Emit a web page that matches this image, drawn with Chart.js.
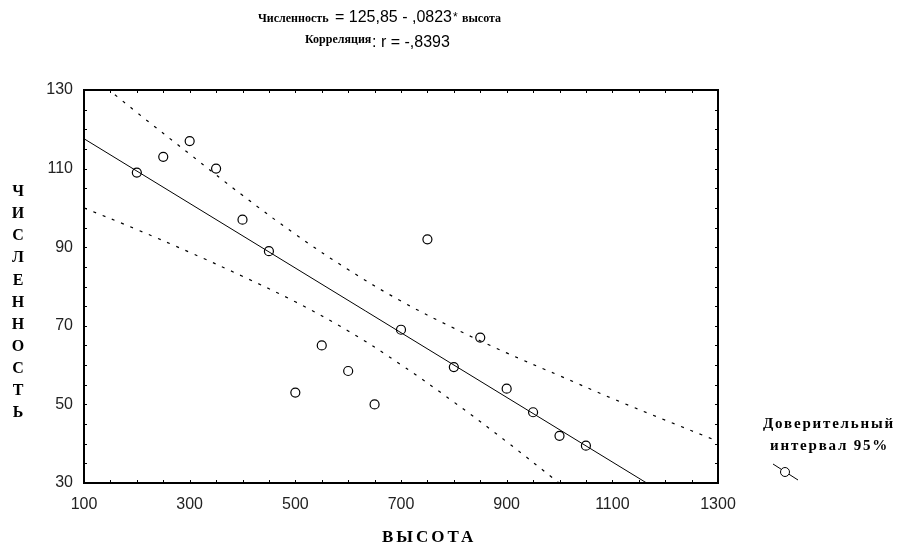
<!DOCTYPE html>
<html lang="ru">
<head>
<meta charset="utf-8">
<title>Численность и высота</title>
<script src="https://cdn.jsdelivr.net/npm/chart.js@4.4.1/dist/chart.umd.min.js"></script>
<style>
  html, body { margin: 0; padding: 0; background: #fff; }
  #heightChart { display: block; }
</style>
</head>
<body>
<canvas id="heightChart" width="901" height="554"></canvas>
<script>
// наблюдения: высота и численность
const visota = [200, 250, 300, 350, 400, 450, 500, 550, 600, 650, 700, 750, 800, 850, 900, 950, 1000, 1050];
const chislennost = [109, 113, 117, 110, 97, 89, 53, 65, 58.5, 50, 69, 92, 59.5, 67, 54, 48, 42, 39.5];

// линия регрессии (концы)
const fitX = [100, 1165];
const fitY = [117.6, 30];

// доверительный интервал 95%
const bandX = [100, 200, 300, 400, 500, 600, 700, 800, 900, 1000, 1100, 1200, 1300];
const upperBand = [135.2, 124.3, 113.7, 103.2, 93.3, 84.3, 76.3, 69.4, 63.1, 57.3, 51.5, 46.0, 40.6];
const lowerBand = [100.0, 94.5, 88.7, 82.6, 76.1, 68.7, 60.1, 50.6, 40.5, 29.9, 19.1, 8.2, -2.8];

const xTicks = [100, 300, 500, 700, 900, 1100, 1300];
const yTicks = [30, 50, 70, 90, 110, 130];

const serifBold = '"Liberation Serif", "DejaVu Serif", serif';
const sans = '"Liberation Sans", Arial, sans-serif';

function toPoints(xs, ys) {
  return xs.map((x, i) => ({ x: x, y: ys[i] }));
}

function drawText(ctx, str, x, y, font, align, spacing) {
  ctx.font = font;
  ctx.textAlign = align || "left";
  ctx.letterSpacing = spacing || "0px";
  ctx.fillText(str, x, y);
  ctx.letterSpacing = "0px";
}

document.addEventListener("DOMContentLoaded", function () {
  const canvas = document.getElementById("heightChart");

  const whiteBg = {
    id: "whiteBg",
    beforeDraw(chart) {
      const ctx = chart.ctx;
      ctx.save();
      ctx.fillStyle = "#fff";
      ctx.fillRect(0, 0, chart.width, chart.height);
      ctx.restore();
    },
  };

  // рамка сверху/справа и мелкие засечки внутрь
  const frame = {
    id: "frame",
    afterDatasetsDraw(chart) {
      const ctx = chart.ctx;
      const a = chart.chartArea;
      const sx = chart.scales.x;
      const sy = chart.scales.y;
      ctx.save();
      ctx.strokeStyle = "#000";
      ctx.lineWidth = 2;
      ctx.beginPath();
      ctx.moveTo(a.left, a.top);
      ctx.lineTo(a.right, a.top);
      ctx.lineTo(a.right, a.bottom);
      ctx.stroke();

      ctx.lineWidth = 1;
      ctx.beginPath();
      for (let v = 150; v < 1300; v += 50) {
        const px = Math.round(sx.getPixelForValue(v)) + 0.5;
        ctx.moveTo(px, a.bottom);
        ctx.lineTo(px, a.bottom - 3);
        ctx.moveTo(px, a.top);
        ctx.lineTo(px, a.top + 3);
      }
      for (let v = 35; v < 130; v += 5) {
        const py = Math.round(sy.getPixelForValue(v)) + 0.5;
        ctx.moveTo(a.left, py);
        ctx.lineTo(a.left + 3, py);
        ctx.moveTo(a.right, py);
        ctx.lineTo(a.right - 3, py);
      }
      ctx.stroke();
      ctx.restore();
    },
  };

  const labels = {
    id: "labels",
    afterDraw(chart) {
      const ctx = chart.ctx;
      ctx.save();
      ctx.fillStyle = "#000";
      ctx.textBaseline = "middle";

      // заголовок
      drawText(ctx, "Численность", 258, 19, "bold 12px " + serifBold);
      drawText(ctx, "= 125,85 - ,0823", 335, 18, "16px " + sans);
      drawText(ctx, "*", 453, 18, "12px " + sans);
      drawText(ctx, "высота", 462, 19, "bold 12px " + serifBold);
      drawText(ctx, "Корреляция", 305, 40, "bold 12px " + serifBold);
      drawText(ctx, ": r = -,8393", 372, 43, "16px " + sans);

      // подпись оси Y по буквам
      const yTitle = "ЧИСЛЕННОСТЬ".split("");
      yTitle.forEach((ch, i) => {
        drawText(ctx, ch, 18, 192 + i * 22.1, "bold 16px " + serifBold, "center");
      });

      drawText(ctx, "ВЫСОТА", 382, 538, "bold 17px " + serifBold, "left", "3px");

      // легенда
      drawText(ctx, "Доверительный", 763, 424, "bold 15px " + serifBold, "left", "1.8px");
      drawText(ctx, "интервал 95%", 770, 446, "bold 15px " + serifBold, "left", "1.8px");
      ctx.strokeStyle = "#000";
      ctx.lineWidth = 1;
      ctx.beginPath();
      ctx.moveTo(773, 464);
      ctx.lineTo(798, 480);
      ctx.stroke();
      ctx.fillStyle = "#fff";
      ctx.beginPath();
      ctx.arc(785, 472, 4.5, 0, Math.PI * 2);
      ctx.fill();
      ctx.stroke();
      ctx.restore();
    },
  };

  new Chart(canvas, {
    type: "scatter",
    data: {
      datasets: [
        {
          label: "Верхняя граница",
          data: toPoints(bandX, upperBand),
          showLine: true,
          borderColor: "#000",
          borderWidth: 1.2,
          borderDash: [3, 7],
          pointRadius: 0,
          tension: 0.4,
        },
        {
          label: "Нижняя граница",
          data: toPoints(bandX, lowerBand),
          showLine: true,
          borderColor: "#000",
          borderWidth: 1.2,
          borderDash: [3, 7],
          pointRadius: 0,
          tension: 0.4,
        },
        {
          label: "Регрессия",
          data: toPoints(fitX, fitY),
          showLine: true,
          borderColor: "#000",
          borderWidth: 1,
          pointRadius: 0,
        },
        {
          label: "Численность",
          data: toPoints(visota, chislennost),
          showLine: false,
          pointRadius: 4.5,
          pointBorderWidth: 1.2,
          pointBorderColor: "#000",
          pointBackgroundColor: "#fff",
        },
      ],
    },
    options: {
      responsive: false,
      animation: false,
      layout: { padding: { top: 90, right: 183, left: 0, bottom: 0 } },
      scales: {
        x: {
          type: "linear",
          min: 100,
          max: 1300,
          afterFit: (s) => { s.height = 71; },
          afterBuildTicks: (s) => { s.ticks = xTicks.map((v) => ({ value: v })); },
          grid: { display: false, drawTicks: false },
          border: { display: true, color: "#000", width: 2 },
          ticks: {
            color: "#222",
            padding: 12,
            font: { family: sans, size: 16 },
            callback: (v) => String(v),
          },
        },
        y: {
          type: "linear",
          min: 30,
          max: 130,
          afterFit: (s) => { s.width = 84; },
          afterBuildTicks: (s) => { s.ticks = yTicks.map((v) => ({ value: v })); },
          grid: { display: false, drawTicks: false },
          border: { display: true, color: "#000", width: 2 },
          ticks: {
            color: "#222",
            padding: 11,
            font: { family: sans, size: 16 },
            callback: (v) => String(v),
          },
        },
      },
      plugins: {
        legend: { display: false },
        title: { display: false },
        tooltip: { enabled: false },
      },
    },
    plugins: [whiteBg, frame, labels],
  });
});
</script>
</body>
</html>
